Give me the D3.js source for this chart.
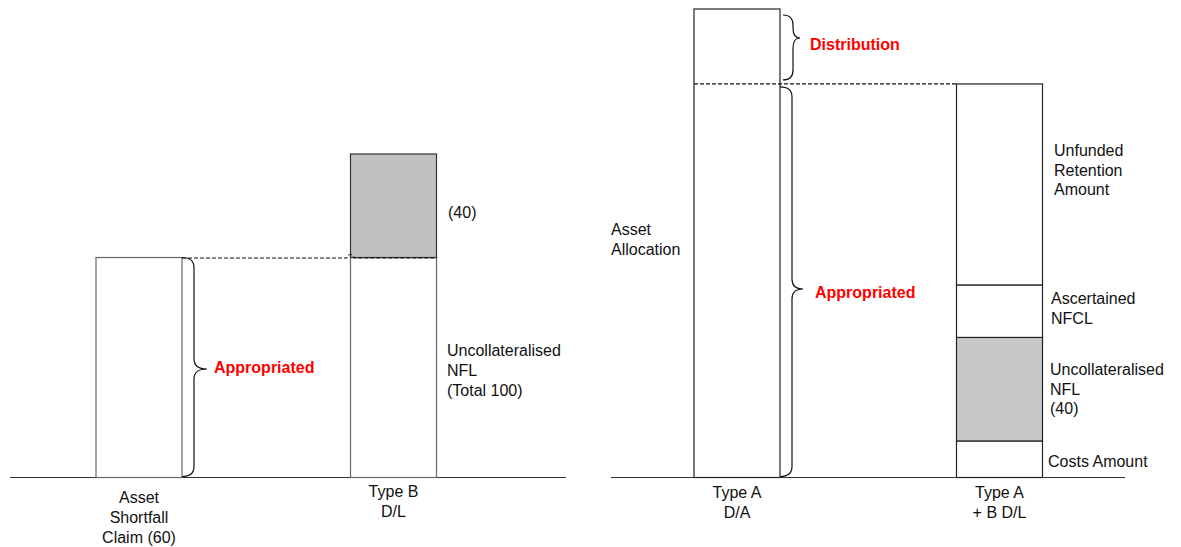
<!DOCTYPE html>
<html><head><meta charset="utf-8">
<script src="https://cdn.jsdelivr.net/npm/d3@7"></script>
<style>body{margin:0;background:#fff}text{font-family:"Liberation Sans",Arial,sans-serif}</style>
</head><body>
<svg id="c" width="1181" height="547"></svg>
<script>
// ---- data (relative heights) ----
const leftCategories = ["Asset|Shortfall|Claim (60)", "Type B|D/L"];
const leftClaim = 68;            // Asset Shortfall Claim bar
const leftTypeBBase = 68;        // Uncollateralised NFL part
const leftTypeBTop = 32;         // (40) grey part
const rightCategories = ["Type A|D/A", "Type A|+ B D/L"];
const rightAppropriated = 84;
const rightDistribution = 16;
const rightStackNames = ["Costs Amount", "Uncollateralised|NFL|(40)", "Ascertained|NFCL", "Unfunded|Retention|Amount"];
const rightStackValues = [7.8, 22.1, 11.2, 42.9];
const rightStackFill = ["#fff", "#c8c8c8", "#fff", "#fff"];

const svg = d3.select("#c");
const base = 477.5;
const barW = 86;

// ---- scales ----
const xL = d3.scalePoint().domain(leftCategories).range([139, 393.5]);
const yL = d3.scaleLinear().domain([0, 100]).range([base, 154]);
const xR = d3.scalePoint().domain(rightCategories).range([737, 999.5]);
const yR = d3.scaleLinear().domain([0, 100]).range([base, 9]);

const font = 16;
function multiText(g, str, x, y, anchor, lh) {
  const t = g.append("text").attr("x", x).attr("y", y).attr("text-anchor", anchor)
    .attr("font-size", font).attr("fill", "#111");
  str.split("|").filter(s => s.length).forEach((s, i) => t.append("tspan").attr("x", x).attr("dy", i ? lh : 0).text(s));
}
function brace(x0, xm, xt, yTop, yTip, yBot) {
  const r = 10;
  const p = d3.path();
  p.moveTo(x0, yTop);
  p.quadraticCurveTo(xm, yTop, xm, yTop + r);
  p.lineTo(xm, yTip - r);
  p.quadraticCurveTo(xm, yTip, xt, yTip);
  p.quadraticCurveTo(xm, yTip, xm, yTip + r);
  p.lineTo(xm, yBot - r);
  p.quadraticCurveTo(xm, yBot, x0, yBot);
  return p.toString();
}

// ================= LEFT PANEL =================
const L = svg.append("g");
L.append("line").attr("x1", 10).attr("x2", 566).attr("y1", base).attr("y2", base).attr("stroke", "#333").attr("stroke-width", 1.2);
const c1 = xL(leftCategories[0]), c2 = xL(leftCategories[1]);
L.append("rect").attr("x", c1 - barW/2).attr("y", yL(leftClaim)).attr("width", barW).attr("height", base - yL(leftClaim))
  .attr("fill", "#fff").attr("stroke", "#666").attr("stroke-width", 1.2);
L.append("rect").attr("x", c2 - barW/2).attr("y", yL(leftTypeBBase)).attr("width", barW).attr("height", base - yL(leftTypeBBase))
  .attr("fill", "#fff").attr("stroke", "#666").attr("stroke-width", 1.2);
L.append("rect").attr("x", c2 - barW/2).attr("y", yL(leftTypeBBase + leftTypeBTop)).attr("width", barW).attr("height", yL(leftTypeBBase) - yL(leftTypeBBase + leftTypeBTop))
  .attr("fill", "#c0c0c0").attr("stroke", "#333").attr("stroke-width", 1.2);
// dashed line with hop
const yd = yL(leftTypeBBase) + 0.5, hx = c2 - barW/2;
const dp = d3.path();
dp.moveTo(c1 + barW/2, yd); dp.lineTo(hx - 3.5, yd);
dp.arc(hx, yd, 3.5, Math.PI, 0, false);
dp.lineTo(c2 + barW/2, yd);
L.append("path").attr("d", dp.toString()).attr("fill", "none").attr("stroke", "#111").attr("stroke-width", 1).attr("stroke-dasharray", "4,2");
// brace
L.append("path").attr("d", brace(c1 + barW/2, c1 + barW/2 + 12, c1 + barW/2 + 25, yL(leftClaim), 369, base - 1))
  .attr("fill", "none").attr("stroke", "#111").attr("stroke-width", 1.2);
L.append("text").attr("x", 214).attr("y", 373).attr("font-size", 16).attr("font-weight", "bold").attr("fill", "#ff0000").text("Appropriated");
multiText(L, "(40)", 448, 218, "start", 20);
multiText(L, "Uncollateralised|NFL|(Total 100)", 447, 356, "start", 20);
leftCategories.forEach((c, i) => multiText(L, c, xL(c), i ? 497 : 503, "middle", 20));

// ================= RIGHT PANEL =================
const R = svg.append("g");
R.append("line").attr("x1", 611).attr("x2", 1125).attr("y1", base).attr("y2", base).attr("stroke", "#333").attr("stroke-width", 1.2);
const r1 = xR(rightCategories[0]), r2 = xR(rightCategories[1]);
R.append("rect").attr("x", r1 - barW/2).attr("y", yR(rightAppropriated + rightDistribution)).attr("width", barW)
  .attr("height", base - yR(rightAppropriated + rightDistribution)).attr("fill", "#fff").attr("stroke", "#222").attr("stroke-width", 1.2);
let cum = 0;
const segs = rightStackValues.map((v, i) => { const s = {y0: cum, y1: cum + v, name: rightStackNames[i], fill: rightStackFill[i]}; cum += v; return s; });
R.selectAll("rect.seg").data(segs).join("rect").attr("class", "seg")
  .attr("x", r2 - barW/2).attr("width", barW).attr("y", d => yR(d.y1)).attr("height", d => yR(d.y0) - yR(d.y1))
  .attr("fill", d => d.fill).attr("stroke", "#222").attr("stroke-width", 1.2);
// dashed line
const ya = yR(rightAppropriated);
R.append("line").attr("x1", r1 - barW/2).attr("x2", r2 - barW/2).attr("y1", ya).attr("y2", ya)
  .attr("stroke", "#111").attr("stroke-width", 1.2).attr("stroke-dasharray", "4,2");
// braces
R.append("path").attr("d", brace(r1 + barW/2 + 3, r1 + barW/2 + 13, r1 + barW/2 + 20, 15, 38, ya - 4))
  .attr("fill", "none").attr("stroke", "#111").attr("stroke-width", 1.2);
R.append("path").attr("d", brace(r1 + barW/2, r1 + barW/2 + 12, r1 + barW/2 + 23, ya + 3, 289, base - 1))
  .attr("fill", "none").attr("stroke", "#111").attr("stroke-width", 1.2);
R.append("text").attr("x", 810).attr("y", 50).attr("font-size", 16).attr("font-weight", "bold").attr("fill", "#ff0000").text("Distribution");
R.append("text").attr("x", 815).attr("y", 298).attr("font-size", 16).attr("font-weight", "bold").attr("fill", "#ff0000").text("Appropriated");
multiText(R, "Asset|Allocation", 611, 235, "start", 20);
const segLabelPos = [[1048, 467], [1050, 375], [1051, 304], [1054, 156]];
segs.forEach((s, i) => multiText(R, s.name, segLabelPos[i][0], segLabelPos[i][1], "start", 19.5));
rightCategories.forEach(c => multiText(R, c, xR(c), 498, "middle", 19.5));
</script>
</body></html>
